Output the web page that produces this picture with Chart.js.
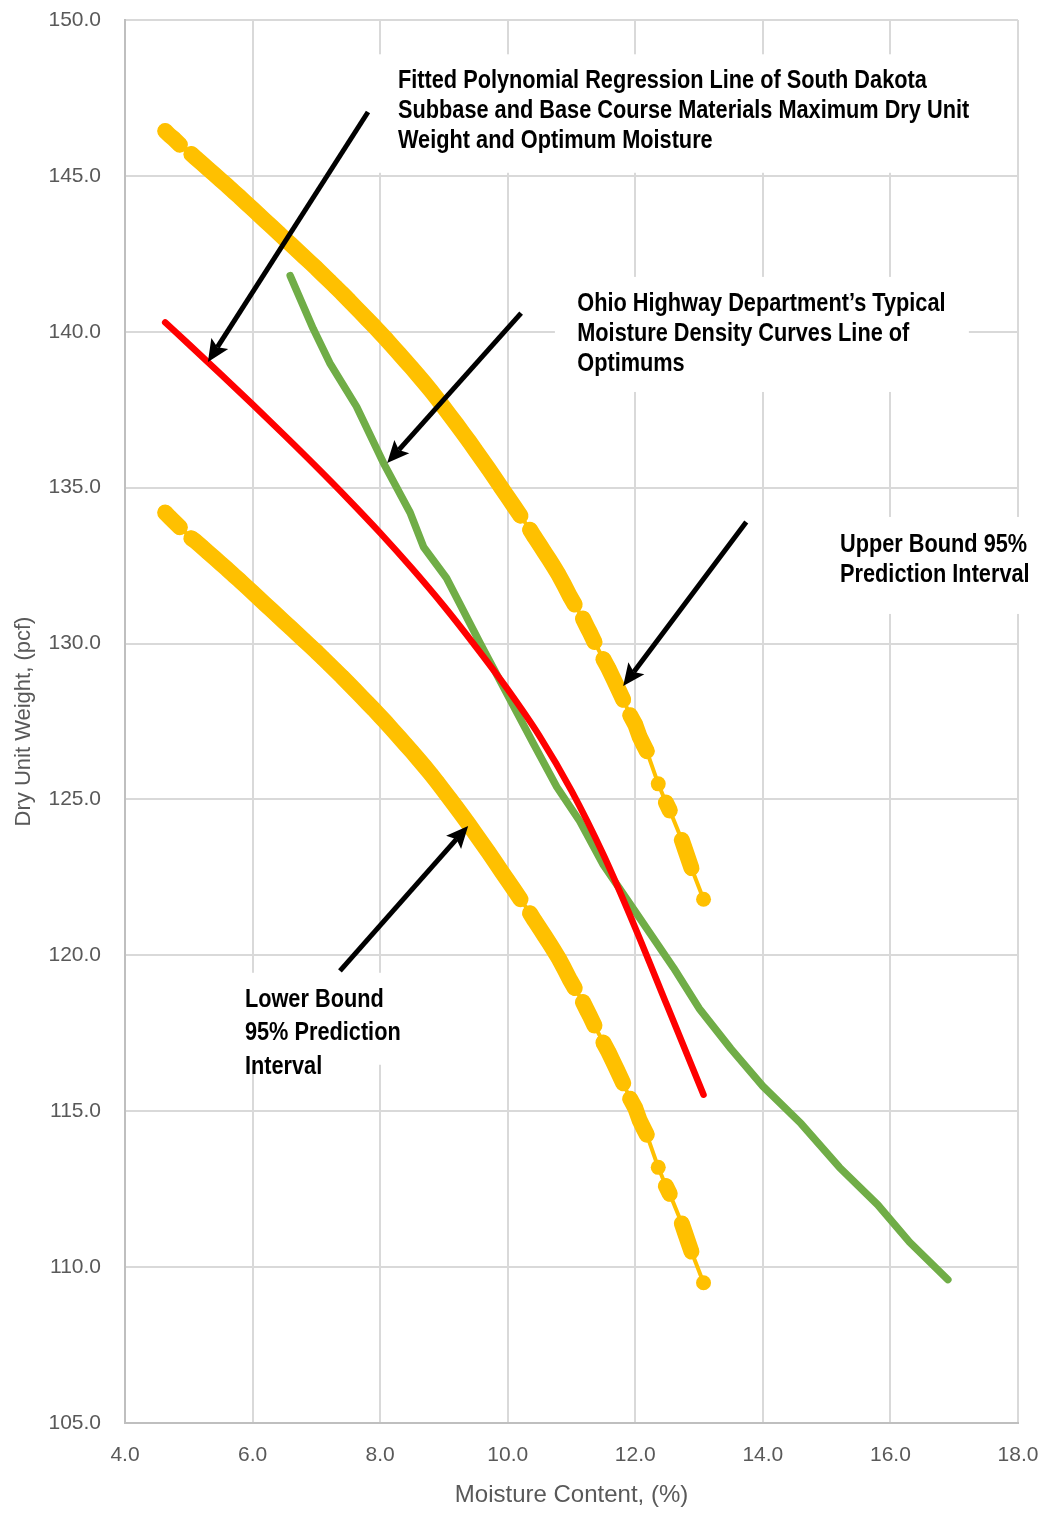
<!DOCTYPE html>
<html>
<head>
<meta charset="utf-8">
<script src="https://cdn.jsdelivr.net/npm/chart.js@4.4.1/dist/chart.umd.min.js"></script>
<style>
  html, body { margin: 0; padding: 0; background: #ffffff; }
  #wrap { width: 1045px; height: 1513px; position: relative; }
</style>
</head>
<body>
<div id="wrap"><canvas id="chart"></canvas></div>
<script>
// moisture values shared by the two prediction interval series
const moisture = [4.63,4.70,4.76,4.86,5.04,
  5.1,5.2,5.3,5.4,5.5,5.6,5.7,5.8,5.9,6.0,
  6.1,6.2,6.3,6.4,6.5,6.6,6.7,6.8,6.9,7.0,
  7.1,7.2,7.3,7.4,7.5,7.6,7.7,7.8,7.9,8.0,
  8.1,8.2,8.3,8.4,8.5,8.6,8.7,8.8,8.9,9.0,
  9.1,9.2,9.3,9.4,9.5,9.6,9.7,9.8,9.9,10.0,
  10.1,10.2,
  10.35,10.42,10.5,10.58,10.65,10.72,10.8,10.88,10.98,11.05,
  11.18,11.24,11.29,11.36,11.5,11.58,11.65,11.72,11.81,11.92,
  12.0,12.07,12.13,12.18,12.36,12.48,12.54,12.73,12.78,12.88,13.07];
const upperBound = [146.44,146.3,146.2,146.0,145.7,
  145.59,145.41,145.23,145.05,144.87,144.69,144.50,144.32,144.13,143.94,
  143.75,143.56,143.37,143.18,142.99,142.80,142.61,142.42,142.23,142.04,
  141.84,141.64,141.44,141.24,141.03,140.82,140.61,140.40,140.19,139.97,
  139.75,139.52,139.29,139.06,138.83,138.59,138.35,138.10,137.84,137.57,
  137.30,137.03,136.75,136.47,136.18,135.89,135.60,135.30,135.00,134.70,
  134.40,134.10,
  133.65,133.42,133.17,132.92,132.70,132.47,132.20,131.90,131.50,131.25,
  130.80,130.55,130.35,130.05,129.50,129.20,128.90,128.60,128.20,127.70,
  127.40,127.00,126.75,126.55,125.50,124.90,124.65,123.70,123.40,122.80,121.80];
const lowerBound = [134.20,134.05,133.93,133.73,133.38,
  133.29,133.11,132.93,132.75,132.57,132.39,132.20,132.02,131.83,131.64,
  131.45,131.26,131.07,130.88,130.69,130.50,130.31,130.12,129.93,129.74,
  129.54,129.34,129.14,128.94,128.73,128.52,128.31,128.10,127.89,127.67,
  127.45,127.22,126.99,126.76,126.53,126.29,126.05,125.80,125.54,125.27,
  125.00,124.73,124.45,124.17,123.88,123.59,123.30,123.00,122.70,122.40,
  122.10,121.80,
  121.35,121.12,120.87,120.62,120.40,120.17,119.90,119.60,119.20,118.95,
  118.50,118.25,118.05,117.75,117.20,116.90,116.60,116.30,115.90,115.40,
  115.10,114.70,114.45,114.25,113.20,112.60,112.35,111.40,111.10,110.50,109.50];

// fitted polynomial regression line
const regMoisture = [4.63,5,5.5,6,6.5,7,7.5,8,8.5,9,9.5,10,10.5,11,11.5,12,12.5,13.07];
const regWeight = [140.30,139.60,138.64,137.67,136.68,135.67,134.63,133.55,132.41,131.20,129.90,128.53,127.03,125.28,123.23,120.88,118.38,115.53];

// Ohio line of optimums
const ohioMoisture = [6.59,6.95,7.21,7.63,8.05,8.47,8.68,9.04,9.57,10.40,10.77,11.13,11.50,12.0,12.6,13.0,13.5,14.0,14.6,15.2,15.8,16.3,16.9];
const ohioWeight = [141.8,140.1,139.0,137.6,135.8,134.2,133.1,132.1,130.0,126.8,125.4,124.3,122.9,121.4,119.6,118.3,117.0,115.8,114.6,113.2,112.0,110.8,109.6];

const xTicks = [4,6,8,10,12,14,16,18];
const yTicks = [105,110,115,120,125,130,135,140,145,150];

// annotation text boxes (data units) and arrows (from -> tip)
const notes = [
  { box: [7.92, 17.72, 148.9, 145.1], tx: 8.28, lines: [
      [148.04, 'Fitted Polynomial Regression Line of South Dakota'],
      [147.08, 'Subbase and Base Course Materials Maximum Dry Unit'],
      [146.12, 'Weight and Optimum Moisture']] },
  { box: [10.74, 17.23, 141.76, 138.07], tx: 11.09, lines: [
      [140.89, 'Ohio Highway Department\u2019s Typical'],
      [139.93, 'Moisture Density Curves Line of'],
      [138.97, 'Optimums']] },
  { box: [14.9, 18.34, 134.06, 130.95], tx: 15.21, lines: [
      [133.16, 'Upper Bound 95%'],
      [132.2, 'Prediction Interval']] },
  { box: [5.65, 8.47, 119.44, 116.49], tx: 5.88, lines: [
      [118.57, 'Lower Bound'],
      [117.51, '95% Prediction'],
      [116.42, 'Interval']] }
];
const arrows = [
  [7.81, 147.05, 5.30, 139.03],
  [10.21, 140.6, 8.11, 135.79],
  [13.74, 133.9, 11.81, 128.64],
  [7.37, 119.5, 9.38, 124.15]
];

const toPoints = (xs, ys) => xs.map((x, i) => ({ x: x, y: ys[i] }));

let noteFont = "bold 26.5px 'Liberation Sans Narrow'";
let noteScale = 1;
(function() {
  const c = document.createElement('canvas').getContext('2d');
  c.font = "bold 24px 'Liberation Sans Narrow', monospace";
  const a = c.measureText('Fitted Polynomial').width;
  c.font = "bold 24px monospace";
  const b = c.measureText('Fitted Polynomial').width;
  if (Math.abs(a - b) < 0.5) {
    noteFont = "bold 26.5px 'Liberation Sans'";
    noteScale = 0.82;
  }
})();

// thick band where the points sit close together
const bandWidth = ctx => (ctx.p1.parsed.x - ctx.p0.parsed.x) < 0.105 ? 16 : 4;

const notesPlugin = {
  id: 'notes',
  beforeDatasetsDraw(chart) {
    const ctx = chart.ctx;
    const xs = chart.scales.x, ys = chart.scales.y;
    ctx.save();
    notes.forEach(n => {
      const x1 = xs.getPixelForValue(n.box[0]), x2 = xs.getPixelForValue(n.box[1]);
      const y1 = ys.getPixelForValue(n.box[2]), y2 = ys.getPixelForValue(n.box[3]);
      ctx.fillStyle = '#ffffff';
      ctx.fillRect(x1, y1, x2 - x1, y2 - y1);
    });
    ctx.fillStyle = '#000000';
    ctx.font = noteFont;
    ctx.textBaseline = 'middle';
    ctx.textAlign = 'left';
    notes.forEach(n => {
      const tx = xs.getPixelForValue(n.tx);
      n.lines.forEach(l => {
        const ty = ys.getPixelForValue(l[0]);
        ctx.save();
        ctx.translate(tx, ty);
        ctx.scale(noteScale, 1);
        ctx.fillText(l[1], 0, 0);
        ctx.restore();
      });
    });
    ctx.restore();
  },
  afterDatasetsDraw(chart) {
    const ctx = chart.ctx;
    const xs = chart.scales.x, ys = chart.scales.y;
    ctx.save();
    ctx.strokeStyle = '#000000';
    ctx.fillStyle = '#000000';
    ctx.lineWidth = 5;
    arrows.forEach(a => {
      const x0 = xs.getPixelForValue(a[0]), y0 = ys.getPixelForValue(a[1]);
      const x1 = xs.getPixelForValue(a[2]), y1 = ys.getPixelForValue(a[3]);
      const ang = Math.atan2(y1 - y0, x1 - x0);
      const headLen = 22, headW = 10;
      const bx = x1 - Math.cos(ang) * headLen * 0.8, by = y1 - Math.sin(ang) * headLen * 0.8;
      ctx.beginPath();
      ctx.moveTo(x0, y0);
      ctx.lineTo(bx, by);
      ctx.stroke();
      const hx = x1 - Math.cos(ang) * headLen, hy = y1 - Math.sin(ang) * headLen;
      const px = -Math.sin(ang) * headW, py = Math.cos(ang) * headW;
      ctx.beginPath();
      ctx.moveTo(x1, y1);
      ctx.lineTo(hx + px, hy + py);
      ctx.lineTo(bx, by);
      ctx.lineTo(hx - px, hy - py);
      ctx.closePath();
      ctx.fill();
    });
    ctx.restore();
  }
};

const noPad = s => { s.paddingTop = 0; s.paddingBottom = 0; s.paddingLeft = 0; s.paddingRight = 0; };

new Chart(document.getElementById('chart'), {
  type: 'scatter',
  data: {
    datasets: [
      {
        label: 'Fitted Polynomial Regression',
        data: toPoints(regMoisture, regWeight),
        showLine: true,
        borderColor: '#ff0000',
        borderWidth: 6.5,
        pointRadius: 0,
        cubicInterpolationMode: 'monotone',
        borderCapStyle: 'round',
        order: 0
      },
      {
        label: 'Ohio Line of Optimums',
        data: toPoints(ohioMoisture, ohioWeight),
        showLine: true,
        borderColor: '#70ad47',
        borderWidth: 7.5,
        pointRadius: 0,
        tension: 0,
        borderCapStyle: 'round',
        borderJoinStyle: 'round',
        order: 1
      },
      {
        label: 'Upper Bound 95%',
        data: toPoints(moisture, upperBound),
        showLine: true,
        borderColor: '#ffc000',
        backgroundColor: '#ffc000',
        borderWidth: 4,
        borderCapStyle: 'round',
        borderJoinStyle: 'round',
        segment: { borderWidth: bandWidth },
        pointRadius: 7.5,
        pointBorderWidth: 0,
        tension: 0,
        order: 2
      },
      {
        label: 'Lower Bound 95%',
        data: toPoints(moisture, lowerBound),
        showLine: true,
        borderColor: '#ffc000',
        backgroundColor: '#ffc000',
        borderWidth: 4,
        borderCapStyle: 'round',
        borderJoinStyle: 'round',
        segment: { borderWidth: bandWidth },
        pointRadius: 7.5,
        pointBorderWidth: 0,
        tension: 0,
        order: 3
      }
    ]
  },
  options: {
    responsive: true,
    maintainAspectRatio: false,
    animation: false,
    layout: { padding: { top: 20, right: 27, bottom: 0, left: 0 } },
    plugins: {
      legend: { display: false },
      tooltip: { enabled: false }
    },
    scales: {
      x: {
        type: 'linear',
        min: 4,
        max: 18,
        afterBuildTicks: s => { s.ticks = xTicks.map(v => ({ value: v })); },
        afterFit: s => { s.height = 90; noPad(s); },
        grid: { color: '#d9d9d9', lineWidth: 2, drawTicks: false },
        border: { color: '#bfbfbf', width: 2 },
        ticks: {
          padding: 20,
          color: '#595959',
          font: { family: "'Liberation Sans'", size: 21 },
          callback: v => v.toFixed(1)
        },
        title: {
          display: true,
          text: 'Moisture Content, (%)',
          color: '#595959',
          font: { family: "'Liberation Sans'", size: 24 },
          padding: { top: 0, bottom: 3 }
        }
      },
      y: {
        type: 'linear',
        min: 105,
        max: 150,
        afterBuildTicks: s => { s.ticks = yTicks.map(v => ({ value: v })); },
        afterFit: s => { s.width = 125; noPad(s); },
        grid: { color: '#d9d9d9', lineWidth: 2, drawTicks: false },
        border: { color: '#bfbfbf', width: 2 },
        ticks: {
          padding: 24,
          color: '#595959',
          font: { family: "'Liberation Sans'", size: 21 },
          callback: v => v.toFixed(1)
        },
        title: {
          display: true,
          text: 'Dry Unit Weight, (pcf)',
          color: '#595959',
          font: { family: "'Liberation Sans'", size: 22 },
          padding: { top: 11, bottom: 0 }
        }
      }
    }
  },
  plugins: [notesPlugin]
});
</script>
</body>
</html>
